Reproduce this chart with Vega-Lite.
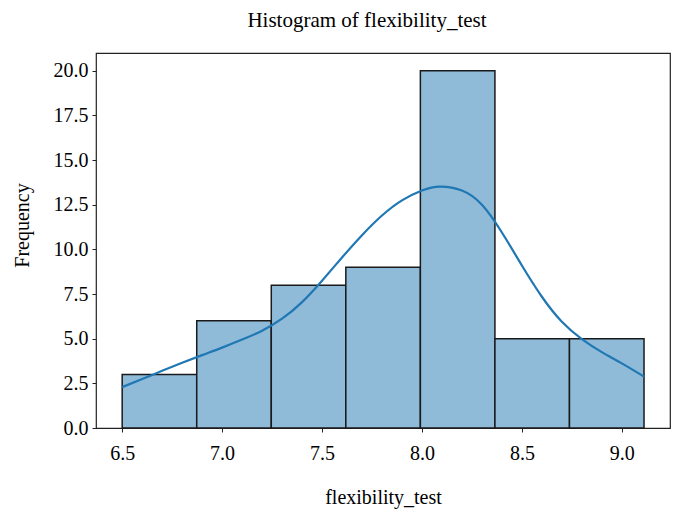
{
  "$schema": "https://vega.github.io/schema/vega-lite/v6.json",
  "width": 574,
  "height": 375,
  "autosize": {"type": "none"},
  "padding": {"left": 96, "top": 53, "right": 3, "bottom": 84},
  "background": "white",
  "title": {
    "text": "Histogram of flexibility_test",
    "font": "Liberation Serif",
    "fontSize": 21,
    "fontWeight": "normal",
    "color": "#000000",
    "anchor": "middle",
    "frame": "group",
    "offset": 22,
    "dx": -16
  },
  "config": {
    "view": {"stroke": "#222222", "strokeWidth": 1.2},
    "axis": {
      "labelFont": "Liberation Serif",
      "titleFont": "Liberation Serif",
      "labelFontSize": 20,
      "titleFontSize": 20,
      "titleFontWeight": "normal",
      "labelColor": "#000000",
      "titleColor": "#000000",
      "tickColor": "#222222",
      "tickSize": 4,
      "grid": false,
      "domain": false
    }
  },
  "datasets": {
    "bins": [
      {"bin_start": 6.5, "bin_end": 6.873, "count": 3},
      {"bin_start": 6.873, "bin_end": 7.246, "count": 6},
      {"bin_start": 7.246, "bin_end": 7.619, "count": 8},
      {"bin_start": 7.619, "bin_end": 7.992, "count": 9},
      {"bin_start": 7.992, "bin_end": 8.365, "count": 20},
      {"bin_start": 8.365, "bin_end": 8.738, "count": 5},
      {"bin_start": 8.738, "bin_end": 9.111, "count": 5}
    ],
    "kde": [
      {"x": 6.5, "density": 2.29},
      {"x": 6.6, "density": 2.74},
      {"x": 6.7, "density": 3.2},
      {"x": 6.8, "density": 3.65},
      {"x": 6.9, "density": 4.08},
      {"x": 7.0, "density": 4.5},
      {"x": 7.1, "density": 4.95},
      {"x": 7.2, "density": 5.45},
      {"x": 7.3, "density": 6.12},
      {"x": 7.4, "density": 7.05},
      {"x": 7.5, "density": 8.25},
      {"x": 7.6, "density": 9.55},
      {"x": 7.7, "density": 10.8},
      {"x": 7.8, "density": 11.9},
      {"x": 7.9, "density": 12.75},
      {"x": 8.0, "density": 13.3},
      {"x": 8.09, "density": 13.52},
      {"x": 8.2, "density": 13.3},
      {"x": 8.3, "density": 12.5},
      {"x": 8.4, "density": 10.95},
      {"x": 8.5, "density": 9.1},
      {"x": 8.6, "density": 7.35},
      {"x": 8.7, "density": 5.95},
      {"x": 8.8, "density": 4.98},
      {"x": 8.9, "density": 4.25},
      {"x": 9.0, "density": 3.62},
      {"x": 9.111, "density": 2.88}
    ]
  },
  "layer": [
    {
      "data": {"name": "bins"},
      "mark": {"type": "rect", "fill": "#8fbbd9", "stroke": "#1a1a1a", "strokeWidth": 1.5},
      "encoding": {
        "x": {
          "field": "bin_start",
          "type": "quantitative",
          "scale": {"domain": [6.369, 9.241], "nice": false, "zero": false},
          "axis": {
            "title": "flexibility_test",
            "values": [6.5, 7.0, 7.5, 8.0, 8.5, 9.0],
            "format": ".1f",
            "labelPadding": 11,
            "titleY": 75,
            "titleBaseline": "alphabetic"
          }
        },
        "x2": {"field": "bin_end"},
        "y": {
          "field": "count",
          "type": "quantitative",
          "scale": {"domain": [0, 21], "nice": false},
          "axis": {
            "title": "Frequency",
            "values": [0, 2.5, 5, 7.5, 10, 12.5, 15, 17.5, 20],
            "format": ".1f",
            "labelPadding": 4,
            "titleX": -68,
            "titleY": 172,
            "titleBaseline": "alphabetic"
          }
        },
        "y2": {"datum": 0}
      }
    },
    {
      "data": {"name": "kde"},
      "mark": {"type": "line", "color": "#1f77b4", "strokeWidth": 2.2, "interpolate": "natural"},
      "encoding": {
        "x": {"field": "x", "type": "quantitative"},
        "y": {"field": "density", "type": "quantitative"}
      }
    }
  ]
}
